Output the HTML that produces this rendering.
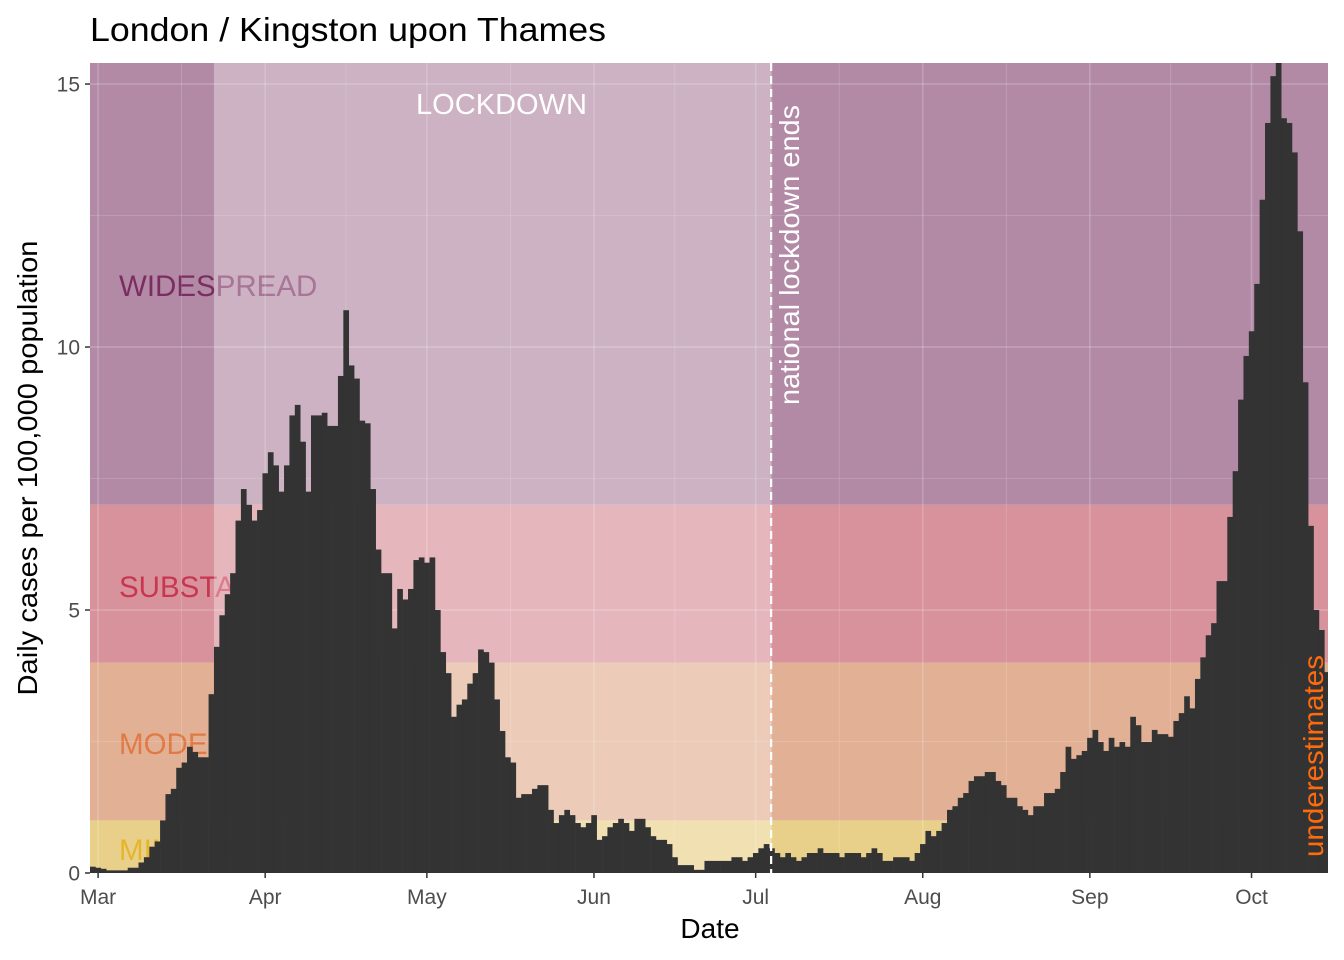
<!DOCTYPE html>
<html><head><meta charset="utf-8">
<style>
html,body{margin:0;padding:0;background:#fff;}
svg{display:block;font-family:"Liberation Sans",Arial,sans-serif;}
</style></head>
<body>
<svg id="chart" width="1344" height="960" viewBox="0 0 1344 960"></svg>
<script>
// ---- data ----
const startDate = "2020-02-29";
const dailyCases = [
0.12,0.1,0.08,0.05,0.05,0.05,0.05,0.1,0.1,0.2,
0.3,0.5,0.6,1.0,1.5,1.6,2.0,2.1,2.4,2.3,
2.2,2.2,3.4,4.3,4.9,5.3,5.7,6.7,7.3,7.0,
6.7,6.9,7.6,8.0,7.75,7.25,7.75,8.7,8.9,8.2,
7.25,8.7,8.7,8.75,8.5,8.5,9.45,10.7,9.65,9.4,
8.6,8.55,7.3,6.15,5.7,5.7,4.65,5.4,5.2,5.4,
5.95,6.0,5.9,6.0,5.0,4.2,3.8,2.97,3.2,3.3,
3.6,3.8,4.25,4.2,4.0,3.3,2.7,2.2,2.1,1.43,
1.5,1.5,1.6,1.67,1.67,1.2,0.95,1.1,1.2,1.1,
0.95,0.87,0.95,1.1,0.63,0.7,0.87,0.95,1.03,0.95,
0.8,1.03,1.03,0.87,0.7,0.63,0.63,0.55,0.3,0.15,
0.15,0.15,0.06,0.06,0.23,0.23,0.23,0.23,0.23,0.3,
0.3,0.23,0.3,0.38,0.47,0.55,0.47,0.38,0.3,0.38,
0.3,0.23,0.3,0.38,0.38,0.47,0.38,0.38,0.38,0.3,
0.38,0.38,0.38,0.3,0.38,0.47,0.38,0.23,0.23,0.3,
0.3,0.3,0.23,0.38,0.55,0.8,0.7,0.8,0.95,1.2,
1.27,1.43,1.52,1.75,1.84,1.84,1.92,1.92,1.75,1.67,
1.43,1.43,1.27,1.2,1.1,1.27,1.27,1.52,1.52,1.6,
1.92,2.4,2.17,2.24,2.32,2.57,2.72,2.49,2.32,2.57,
2.4,2.49,2.4,2.97,2.81,2.49,2.49,2.72,2.64,2.64,
2.59,2.89,3.04,3.36,3.13,3.69,4.1,4.52,4.75,5.55,
5.55,6.77,7.64,9.0,9.83,10.3,11.2,12.8,14.26,15.15,
15.4,14.35,14.26,13.7,12.2,9.33,6.6,5.0,4.62,3.82];
const monthLabels = ["Mar","Apr","May","Jun","Jul","Aug","Sep","Oct"];
const monthDayIndex = [1,32,62,93,123,154,185,215];
const yTicks = [0,5,10,15];
const bandNames = ["MINIMAL","MODERATE","SUBSTANTIAL","WIDESPREAD"];
const bandLower = [0,1,4,7];
const bandUpper = [1,4,7,16];
const lockdownStart = 23; // index of Mar 23
const lockdownEnd = 126;  // index of Jul 4

// ---- scales ----
const L=90,R=1328,T=63,B=873;
const dayW=5.39;
const yMax=15.4;
const x=i=>L+dayW*(i+0.5);
const y=v=>B-(v/yMax)*(B-T);
const NS="http://www.w3.org/2000/svg";
const svg=document.getElementById('chart');
function mk(tag,attrs,parent){const e=document.createElementNS(NS,tag);for(const k in attrs)e.setAttribute(k,attrs[k]);(parent||svg).appendChild(e);return e;}

const bandFill=["#e8d08a","#e2b094","#d8929c","#b28aa5"];
const bandText=["#e6b52c","#e07a45","#c8374f","#7b2d62"];
const bandLabelVal=[0.44,2.45,5.44,11.16];
for(let b=0;b<bandNames.length;b++){
  const top=Math.max(T,y(bandUpper[b]));
  const r=mk('rect',{x:L,y:top,width:R-L,height:y(bandLower[b])-top,fill:bandFill[b]});
  
  
}
for(let b=0;b<bandNames.length;b++){
  const t=mk('text',{x:119,y:y(bandLabelVal[b])+10,fill:bandText[b],'font-size':29.5});
  t.textContent=bandNames[b];
  
  
}
// lockdown overlay
const lx0=x(lockdownStart)-dayW/2, lx1=x(lockdownEnd)-dayW/2+2.5;
const ov=mk('rect',{x:lx0,y:T,width:lx1-lx0,height:B-T,fill:"#ffffff","fill-opacity":0.34});



// grid
const g=mk('g',{stroke:"#ffffff","stroke-opacity":0.2});


for(let v=0;v<=15;v+=2.5){mk('line',{x1:L,x2:R,y1:y(v),y2:y(v),'stroke-width':v%5===0?1.6:0.8},g);}
for(let m=0;m<monthDayIndex.length;m++){
  const xx=x(monthDayIndex[m]);
  mk('line',{x1:xx,x2:xx,y1:T,y2:B,'stroke-width':1.6},g);
  const mid=m+1<monthDayIndex.length?(monthDayIndex[m]+monthDayIndex[m+1])/2:monthDayIndex[m]+15;
  if(x(mid)<R) mk('line',{x1:x(mid),x2:x(mid),y1:T,y2:B,'stroke-width':0.8},g);
}

// bars
const bars=mk('g',{fill:"#333333"});


for(let i=0;i<dailyCases.length;i++){
  const bx=x(i)-dayW/2;
  const w=Math.min(dayW+0.3,R-bx);
  if(w<=0) continue;
  const r=mk('rect',{x:bx,y:y(dailyCases[i]),width:w,height:B-y(dailyCases[i])},bars);
  
  
}
// dashed line
const dl=mk('line',{x1:lx1-0.5,x2:lx1-0.5,y1:T,y2:B,stroke:"#ffffff","stroke-width":2.2,"stroke-dasharray":"8,5"});



// annotations
let t=mk('text',{x:416,y:114,fill:"#ffffff",'font-size':29,textLength:171,lengthAdjust:'spacingAndGlyphs'});
t.textContent="LOCKDOWN";

t=mk('text',{x:0,y:0,fill:"#ffffff",'font-size':28,'text-anchor':'start',textLength:300,lengthAdjust:'spacingAndGlyphs',transform:`translate(799,405) rotate(-90)`});
t.textContent="national lockdown ends";

t=mk('text',{x:0,y:0,fill:"#ff6a0d",'font-size':28,'text-anchor':'start',textLength:202,lengthAdjust:'spacingAndGlyphs',transform:`translate(1323,857) rotate(-90)`});
t.textContent="underestimates";


// axes ticks/labels
const ax=mk('g',{});

for(const v of yTicks){
  mk('line',{x1:85,x2:90,y1:y(v),y2:y(v),stroke:"#333","stroke-width":1.5},ax);
  const tt=mk('text',{x:80,y:y(v)+7.5,fill:"#4d4d4d",'font-size':21,'text-anchor':'end'},ax);
  tt.textContent=v;
}
const axx=mk('g',{});

for(let m=0;m<monthLabels.length;m++){
  const xx=x(monthDayIndex[m]);
  mk('line',{x1:xx,x2:xx,y1:B,y2:B+5,stroke:"#333","stroke-width":1.5},axx);
  const tt=mk('text',{x:xx,y:904,fill:"#4d4d4d",'font-size':21,'text-anchor':'middle'},axx);
  tt.textContent=monthLabels[m];
}
t=mk('text',{x:710,y:938,fill:"#000",'font-size':28,'text-anchor':'middle'});
t.textContent="Date";
t=mk('text',{x:0,y:0,fill:"#000",'font-size':28,'text-anchor':'middle',textLength:455,lengthAdjust:'spacingAndGlyphs',transform:'translate(37,468) rotate(-90)'});
t.textContent="Daily cases per 100,000 population";
t=mk('text',{x:90,y:41,fill:"#000",'font-size':33,textLength:516,lengthAdjust:'spacingAndGlyphs'});
t.textContent="London / Kingston upon Thames";
</script>
</body></html>
